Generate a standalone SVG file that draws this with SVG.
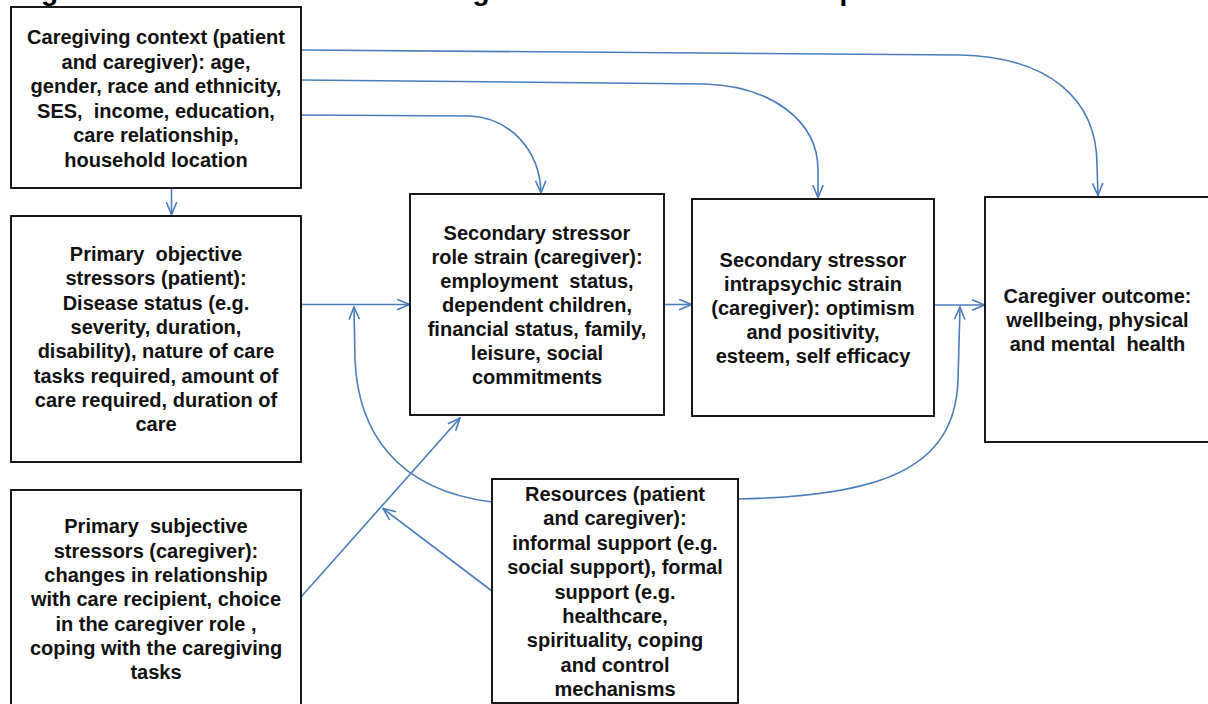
<svg xmlns="http://www.w3.org/2000/svg" width="1208" height="704" viewBox="0 0 1208 704">
  <defs>
    <marker id="arrow" viewBox="0 0 14 12" refX="13.2" refY="6" markerWidth="14" markerHeight="12" markerUnits="userSpaceOnUse" orient="auto">
      <path d="M0.8,0.8 L13.2,6 L0.8,11.2" fill="none" stroke="#4a7ebb" stroke-width="1.6"/>
    </marker>
  </defs>
  <style>
    .box { fill: #ffffff; stroke: #000000; stroke-width: 1.8; }
    .lbl { font-family: "Liberation Sans", Arial, sans-serif; font-weight: bold; font-size: 20px; fill: #111111; text-anchor: middle; white-space: pre; }
    .title { font-family: "Liberation Sans", Arial, sans-serif; font-weight: bold; font-size: 28px; fill: #000000; letter-spacing: 0.8px; }
    .link { fill: none; stroke: #4a7ebb; stroke-width: 1.6; marker-end: url(#arrow); }
  </style>

  <rect width="1208" height="704" fill="#ffffff"/>

  <!-- heading, running off the top edge -->
  <text class="title" x="14.6" y="0">Figure 1: Pearlin's model of caregiver outcomes in the template</text>

  <!-- connectors -->
  <g id="connectors">
    <path class="link" d="M171.5,188 L171.5,214.5"/>
    <path class="link" d="M301,50 L960,55 C1050,57 1097,100 1097,165 L1098,195.5"/>
    <path class="link" d="M301,80 L705,84 C770,86 818,120 818,170 L818,197.5"/>
    <path class="link" d="M301,115 L470,116 C510,118 540,150 541,193"/>
    <path class="link" d="M301,304.5 L409.5,304.5"/>
    <path class="link" d="M664,304.5 L691.5,304.5"/>
    <path class="link" d="M934,305 L984.5,305"/>
    <path class="link" d="M492,502 C395,490 358,430 355,360 L354,307"/>
    <path class="link" d="M738,499 C880,496 955,470 958,380 L960,307"/>
    <path class="link" d="M301,597 L460,418"/>
    <path class="link" d="M492,591 L383,508.5"/>
  </g>

  <g id="caregiving-context">
    <rect class="box" x="11" y="7" width="290" height="181"/>
    <text class="lbl" x="156" y="44">Caregiving context (patient</text>
    <text class="lbl" x="156" y="68.5">and caregiver): age,</text>
    <text class="lbl" x="156" y="93">gender, race and ethnicity,</text>
    <text class="lbl" x="156" y="117.5">SES,  income, education,</text>
    <text class="lbl" x="156" y="142">care relationship,</text>
    <text class="lbl" x="156" y="166.5">household location</text>
  </g>

  <g id="primary-objective">
    <rect class="box" x="11" y="216" width="290" height="246"/>
    <text class="lbl" x="156" y="261">Primary  objective</text>
    <text class="lbl" x="156" y="285.3">stressors (patient):</text>
    <text class="lbl" x="156" y="309.6">Disease status (e.g.</text>
    <text class="lbl" x="156" y="333.9">severity, duration,</text>
    <text class="lbl" x="156" y="358.2">disability), nature of care</text>
    <text class="lbl" x="156" y="382.5">tasks required, amount of</text>
    <text class="lbl" x="156" y="406.8">care required, duration of</text>
    <text class="lbl" x="156" y="431.1">care</text>
  </g>

  <g id="primary-subjective">
    <rect class="box" x="11" y="490" width="290" height="230"/>
    <text class="lbl" x="156" y="533.3">Primary  subjective</text>
    <text class="lbl" x="156" y="557.6">stressors (caregiver):</text>
    <text class="lbl" x="156" y="581.9">changes in relationship</text>
    <text class="lbl" x="156" y="606.2">with care recipient, choice</text>
    <text class="lbl" x="156" y="630.5">in the caregiver role ,</text>
    <text class="lbl" x="156" y="654.8">coping with the caregiving</text>
    <text class="lbl" x="156" y="679.1">tasks</text>
  </g>

  <g id="role-strain">
    <rect class="box" x="410" y="194" width="254" height="221"/>
    <text class="lbl" x="537" y="240">Secondary stressor</text>
    <text class="lbl" x="537" y="264">role strain (caregiver):</text>
    <text class="lbl" x="537" y="288">employment  status,</text>
    <text class="lbl" x="537" y="312">dependent children,</text>
    <text class="lbl" x="537" y="336">financial status, family,</text>
    <text class="lbl" x="537" y="360">leisure, social</text>
    <text class="lbl" x="537" y="384">commitments</text>
  </g>

  <g id="intrapsychic-strain">
    <rect class="box" x="692" y="199" width="242" height="217"/>
    <text class="lbl" x="813" y="267">Secondary stressor</text>
    <text class="lbl" x="813" y="291">intrapsychic strain</text>
    <text class="lbl" x="813" y="315">(caregiver): optimism</text>
    <text class="lbl" x="813" y="339">and positivity,</text>
    <text class="lbl" x="813" y="363">esteem, self efficacy</text>
  </g>

  <g id="caregiver-outcome">
    <rect class="box" x="985" y="197" width="226" height="245"/>
    <text class="lbl" x="1097.5" y="303">Caregiver outcome:</text>
    <text class="lbl" x="1097.5" y="327">wellbeing, physical</text>
    <text class="lbl" x="1097.5" y="351">and mental  health</text>
  </g>

  <g id="resources">
    <rect class="box" x="492" y="479" width="246" height="224"/>
    <text class="lbl" x="615" y="501">Resources (patient</text>
    <text class="lbl" x="615" y="525.4">and caregiver):</text>
    <text class="lbl" x="615" y="549.8">informal support (e.g.</text>
    <text class="lbl" x="615" y="574.2">social support), formal</text>
    <text class="lbl" x="615" y="598.6">support (e.g.</text>
    <text class="lbl" x="615" y="623">healthcare,</text>
    <text class="lbl" x="615" y="647.4">spirituality, coping</text>
    <text class="lbl" x="615" y="671.8">and control</text>
    <text class="lbl" x="615" y="696.2">mechanisms</text>
  </g>
</svg>
